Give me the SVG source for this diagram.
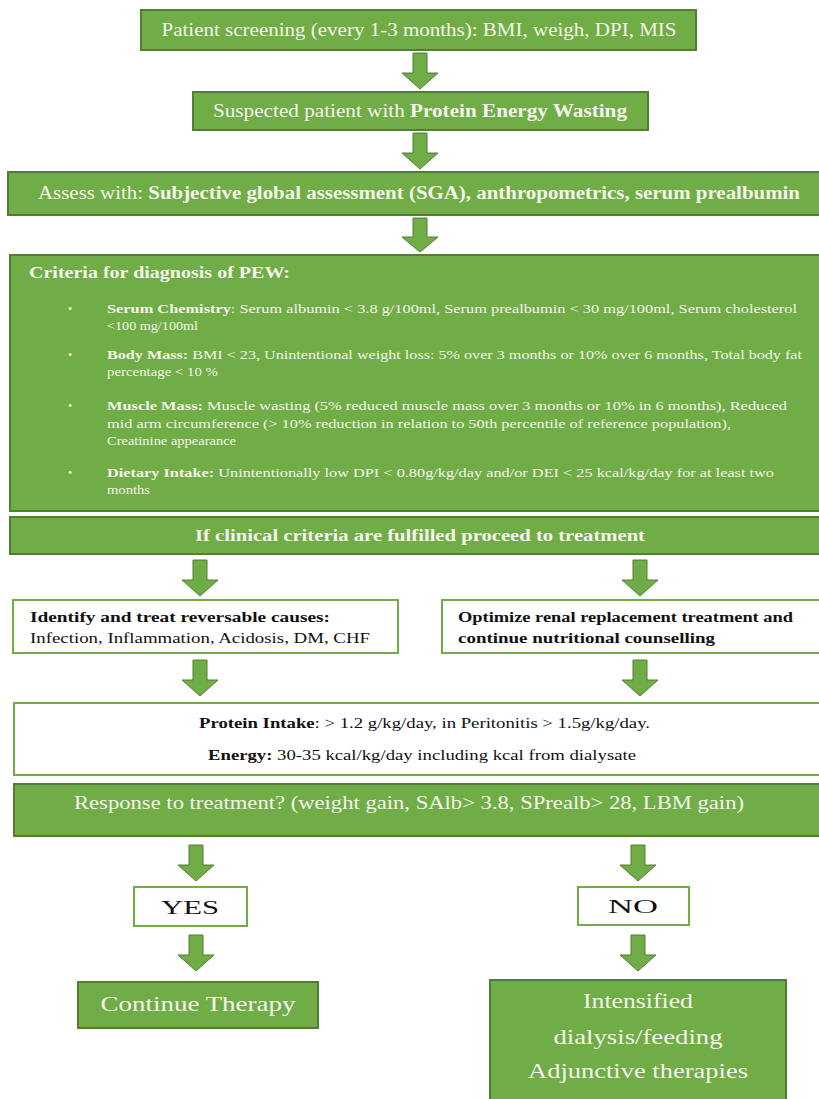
<svg xmlns="http://www.w3.org/2000/svg" width="819" height="1099" viewBox="0 0 819 1099">
<style>
.g{fill:#70AD47;stroke:#507E32;stroke-width:2}
.w{fill:#FFFFFF;stroke:#70AD47;stroke-width:2}
.ar{fill:#70AD47;stroke:#507E32;stroke-width:1}
.t{font-family:"Liberation Serif","DejaVu Serif",serif}
.lt{fill:#F4F4EA}
.dk{fill:#111111}
.b{font-weight:bold}
</style>
<rect width="819" height="1099" fill="#FFFFFF"/>
<g id="connectors">
<path class="ar" d="M413 53H427V73H438L420 89L402 73H413Z"/>
<path class="ar" d="M413 133H427V153H438L420 169L402 153H413Z"/>
<path class="ar" d="M413 218H427V237H438L420 252L402 237H413Z"/>
<path class="ar" d="M193 560H207V580H218L200 596L182 580H193Z"/>
<path class="ar" d="M633 560H647V580H658L640 596L622 580H633Z"/>
<path class="ar" d="M193 660H207V680H218L200 696L182 680H193Z"/>
<path class="ar" d="M633 660H647V680H658L640 696L622 680H633Z"/>
<path class="ar" d="M189 845H203V865H214L196 881L178 865H189Z"/>
<path class="ar" d="M631 845H645V865H656L638 881L620 865H631Z"/>
<path class="ar" d="M189 935H203V955H214L196 971L178 955H189Z"/>
<path class="ar" d="M631 935H645V955H656L638 971L620 955H631Z"/>
</g>
<g id="n1">
<rect class="g" x="141" y="10" width="555" height="40"/>
<text class="t lt" x="419" y="36" font-size="18" text-anchor="middle" textLength="515" lengthAdjust="spacingAndGlyphs">Patient screening (every 1-3 months): BMI, weigh, DPI, MIS</text>
</g>
<g id="n2">
<rect class="g" x="193" y="92" width="455" height="38"/>
<text class="t lt" x="213" y="117" font-size="18" textLength="414" lengthAdjust="spacingAndGlyphs">Suspected patient with <tspan class="b">Protein Energy Wasting</tspan></text>
</g>
<g id="n3">
<rect class="g" x="8" y="172" width="812" height="43"/>
<text class="t lt" x="38" y="199" font-size="18" textLength="762" lengthAdjust="spacingAndGlyphs">Assess with: <tspan class="b">Subjective global assessment (SGA), anthropometrics, serum prealbumin</tspan></text>
</g>
<g id="n4">
<rect class="g" x="10" y="255" width="810" height="256"/>
<text class="t lt b" x="29" y="278" font-size="17" textLength="261" lengthAdjust="spacingAndGlyphs">Criteria for diagnosis of PEW:</text>
<g class="t lt" font-size="13.5">
<text x="68" y="313" font-size="12">•</text>
<text x="107" y="313" textLength="690" lengthAdjust="spacingAndGlyphs"><tspan class="b">Serum Chemistry</tspan>:  Serum albumin &lt; 3.8 g/100ml, Serum prealbumin &lt; 30 mg/100ml, Serum cholesterol</text>
<text x="107" y="330" textLength="91" lengthAdjust="spacingAndGlyphs">&lt;100 mg/100ml</text>
<text x="68" y="359" font-size="12">•</text>
<text x="107" y="359" textLength="695" lengthAdjust="spacingAndGlyphs"><tspan class="b">Body Mass:</tspan> BMI &lt; 23, Unintentional weight loss: 5% over 3 months or 10% over 6 months, Total body fat</text>
<text x="107" y="376" textLength="111" lengthAdjust="spacingAndGlyphs">percentage &lt; 10 %</text>
<text x="68" y="410" font-size="12">•</text>
<text x="107" y="410" textLength="680" lengthAdjust="spacingAndGlyphs"><tspan class="b">Muscle Mass:</tspan> Muscle wasting (5% reduced muscle mass over 3 months or 10% in 6 months), Reduced</text>
<text x="107" y="428" textLength="624" lengthAdjust="spacingAndGlyphs">mid arm circumference (&gt; 10% reduction in relation to 50th percentile of reference population),</text>
<text x="107" y="445" textLength="129" lengthAdjust="spacingAndGlyphs">Creatinine appearance</text>
<text x="68" y="477" font-size="12">•</text>
<text x="107" y="477" textLength="667" lengthAdjust="spacingAndGlyphs"><tspan class="b">Dietary Intake:</tspan> Unintentionally low DPI &lt; 0.80g/kg/day and/or DEI &lt; 25 kcal/kg/day for at least two</text>
<text x="107" y="494" textLength="43" lengthAdjust="spacingAndGlyphs">months</text>
</g>
</g>
<g id="n5">
<rect class="g" x="10" y="517" width="810" height="37"/>
<text class="t lt b" x="420" y="541" font-size="17" text-anchor="middle" textLength="450" lengthAdjust="spacingAndGlyphs">If clinical criteria are fulfilled proceed to treatment</text>
</g>
<g id="n6">
<rect class="w" x="13" y="600" width="385" height="53"/>
<text class="t dk b" x="30" y="622" font-size="15.5" textLength="300" lengthAdjust="spacingAndGlyphs">Identify and treat reversable causes:</text>
<text class="t dk" x="30" y="643" font-size="15.5" textLength="340" lengthAdjust="spacingAndGlyphs">Infection, Inflammation, Acidosis, DM, CHF</text>
</g>
<g id="n7">
<rect class="w" x="442" y="600" width="378" height="53"/>
<text class="t dk b" x="458" y="622" font-size="15.5" textLength="335" lengthAdjust="spacingAndGlyphs">Optimize renal replacement treatment and</text>
<text class="t dk b" x="458" y="643" font-size="15.5" textLength="257" lengthAdjust="spacingAndGlyphs">continue nutritional counselling</text>
</g>
<g id="n8">
<rect class="w" x="14" y="703" width="806" height="72"/>
<text class="t dk" x="199" y="728" font-size="15" textLength="451" lengthAdjust="spacingAndGlyphs"><tspan class="b">Protein Intake</tspan>: &gt; 1.2 g/kg/day, in Peritonitis &gt; 1.5g/kg/day.</text>
<text class="t dk" x="208" y="760" font-size="15" textLength="428" lengthAdjust="spacingAndGlyphs"><tspan class="b">Energy:</tspan> 30-35 kcal/kg/day including kcal from dialysate</text>
</g>
<g id="n9">
<rect class="g" x="14" y="784" width="806" height="52"/>
<text class="t lt" x="409" y="809" font-size="18" text-anchor="middle" textLength="670" lengthAdjust="spacingAndGlyphs">Response to treatment? (weight gain, SAlb&gt; 3.8, SPrealb&gt; 28, LBM gain)</text>
</g>
<g id="n10">
<rect class="w" x="134" y="887" width="113" height="39"/>
<text class="t dk" x="190" y="914" font-size="19" text-anchor="middle" textLength="58" lengthAdjust="spacingAndGlyphs">YES</text>
</g>
<g id="n11">
<rect class="w" x="578" y="887" width="111" height="38"/>
<text class="t dk" x="633" y="913" font-size="19" text-anchor="middle" textLength="50" lengthAdjust="spacingAndGlyphs">NO</text>
</g>
<g id="n12">
<rect class="g" x="78" y="982" width="240" height="46"/>
<text class="t lt" x="198" y="1011" font-size="22" text-anchor="middle" textLength="195" lengthAdjust="spacingAndGlyphs">Continue Therapy</text>
</g>
<g id="n13">
<rect class="g" x="490" y="980" width="296" height="125"/>
<text class="t lt" x="638" y="1008" font-size="22" text-anchor="middle" textLength="110" lengthAdjust="spacingAndGlyphs">Intensified</text>
<text class="t lt" x="638" y="1044" font-size="22" text-anchor="middle" textLength="169" lengthAdjust="spacingAndGlyphs">dialysis/feeding</text>
<text class="t lt" x="638" y="1078" font-size="22" text-anchor="middle" textLength="220" lengthAdjust="spacingAndGlyphs">Adjunctive therapies</text>
</g>
</svg>
